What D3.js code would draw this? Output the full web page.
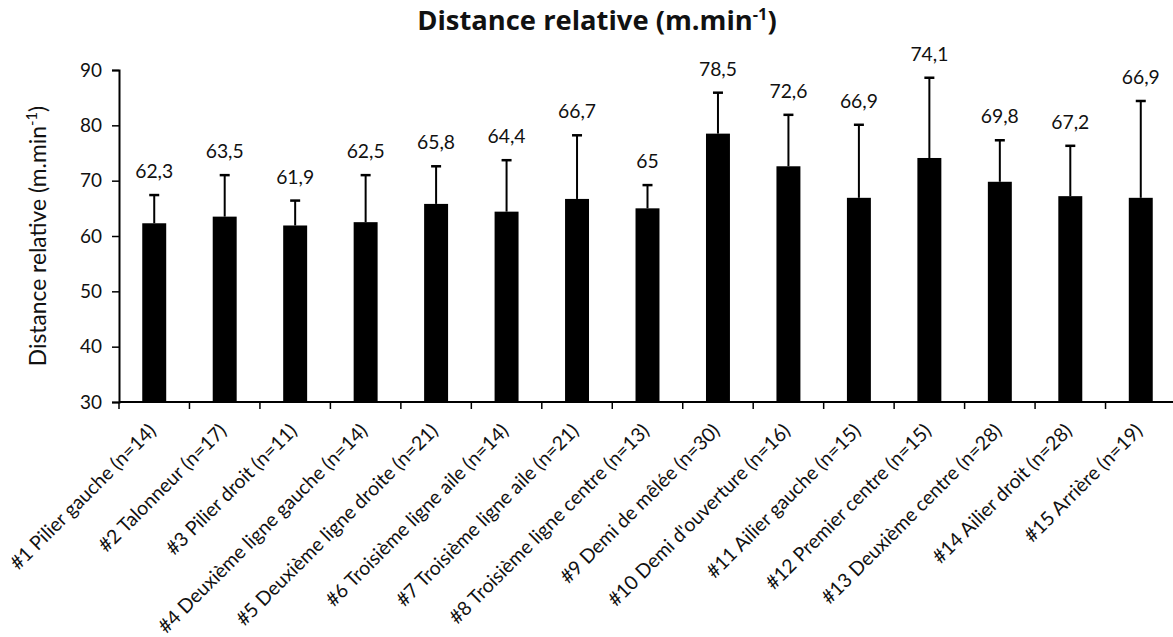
<!DOCTYPE html>
<html><head><meta charset="utf-8">
<script src="https://cdn.jsdelivr.net/npm/d3@7"></script>
<style>body{margin:0;background:#fff}svg{display:block}text{font-family:Lato,"Open Sans",sans-serif;fill:#111}</style>
</head><body><svg id="c" width="1173" height="637"></svg>
<script>
const categories = ["#1 Pilier gauche (n=14)","#2 Talonneur (n=17)","#3 Pilier droit (n=11)","#4 Deuxième ligne gauche (n=14)","#5 Deuxième ligne droite (n=21)","#6 Troisième ligne aile (n=14)","#7 Troisième ligne aile (n=21)","#8 Troisième ligne centre (n=13)","#9 Demi de mêlée (n=30)","#10 Demi d'ouverture (n=16)","#11 Ailier gauche (n=15)","#12 Premier centre (n=15)","#13 Deuxième centre (n=28)","#14 Ailier droit (n=28)","#15 Arrière (n=19)"];
const means = [62.3,63.5,61.9,62.5,65.8,64.4,66.7,65,78.5,72.6,66.9,74.1,69.8,67.2,66.9];
const sds = [5.1,7.5,4.5,8.5,6.8,9.3,11.5,4.2,7.4,9.3,13.2,14.5,7.5,9.1,17.5];
const meanLabels = ["62,3","63,5","61,9","62,5","65,8","64,4","66,7","65","78,5","72,6","66,9","74,1","69,8","67,2","66,9"];
const yTicks = [30,40,50,60,70,80,90];

const svg = d3.select("#c");
const L = 119, R = 1176, T = 70, B = 402;
const x = d3.scaleBand().domain(categories).range([L, R]).paddingInner(0.66).paddingOuter(0.33);
const step = x.step();
const y = d3.scaleLinear().domain([30, 90]).range([B, T]);

function fitSize(sample, target, base, weight, family) {
  const t = svg.append("text").style("font-size", base + "px").style("font-weight", weight || "normal").text(sample);
  if (family) t.style("font-family", family);
  const w = t.node().getComputedTextLength(); t.remove();
  return base * target / w;
}
const titleFont = "'Open Sans',Lato,sans-serif";
const valSize = fitSize("62,3", 38, 20);
const tickSize = fitSize("90", 22, 20);
const xlabSize = 0.96 * (fitSize(categories[0], 204, 20) + fitSize(categories[14], 165, 20)) / 2;
const titleSize = fitSize("Distance relative (m.min)", 345, 22, "bold", titleFont);
const ylabSize = fitSize("Distance relative (m.min)", 246, 18);

// title
const title = svg.append("text").attr("x", 597).attr("y", 30).attr("text-anchor", "middle")
  .style("font-family", titleFont)
  .style("font-size", titleSize + "px").style("font-weight", "bold");
title.append("tspan").text("Distance relative (m.min");
title.append("tspan").text("-1").style("font-size", (titleSize * 0.6) + "px").attr("dy", -titleSize * 0.36);
title.append("tspan").text(")").attr("dy", titleSize * 0.36);

// bars
svg.append("g").selectAll("rect").data(means).join("rect")
  .attr("x", (d, i) => x(categories[i])).attr("width", x.bandwidth())
  .attr("y", d => y(d)).attr("height", d => B - y(d)).attr("fill", "#000");

// error bars
const eg = svg.append("g").attr("stroke", "#000").attr("stroke-width", 2);
means.forEach((m, i) => {
  const cx = x(categories[i]) + x.bandwidth() / 2;
  eg.append("line").attr("x1", cx).attr("x2", cx).attr("y1", y(m)).attr("y2", y(m + sds[i]));
  eg.append("line").attr("x1", cx - 5).attr("x2", cx + 5).attr("y1", y(m + sds[i])).attr("y2", y(m + sds[i])).attr("stroke-width", 2.5);
});

// value labels
svg.append("g").selectAll("text").data(means).join("text")
  .attr("x", (d, i) => x(categories[i]) + x.bandwidth() / 2)
  .attr("y", (d, i) => y(d + sds[i]) - 17)
  .attr("text-anchor", "middle").style("font-size", valSize + "px")
  .text((d, i) => meanLabels[i]);

// y axis
const ya = svg.append("g").attr("transform", `translate(${L},0)`)
  .call(d3.axisLeft(y).tickValues(yTicks).tickSize(7).tickPadding(10).tickFormat(d3.format("d")));
ya.select(".domain").attr("stroke", "#000").attr("stroke-width", 2);
ya.selectAll(".tick line").attr("stroke", "#000").attr("stroke-width", 1.5);
ya.selectAll(".tick text").style("font-size", tickSize + "px").style("font-family", "Lato,'Open Sans',sans-serif").attr("fill", "#111");

// x axis
svg.append("line").attr("x1", L).attr("x2", R).attr("y1", B).attr("y2", B).attr("stroke", "#000").attr("stroke-width", 2);
const bounds = d3.range(categories.length + 1).map(i => L + i * step);
svg.append("g").selectAll("line").data(bounds).join("line")
  .attr("x1", d => d).attr("x2", d => d).attr("y1", B).attr("y2", B + 7)
  .attr("stroke", "#000").attr("stroke-width", 1.5);

// x labels
svg.append("g").selectAll("text").data(categories).join("text")
  .attr("transform", d => `translate(${x(d) + x.bandwidth() / 2 + 3},${B + 30}) rotate(-45)`)
  .attr("text-anchor", "end").style("font-size", xlabSize + "px")
  .text(d => d);

// y axis label
svg.append("text").attr("transform", `translate(46,236) rotate(-90)`)
  .attr("text-anchor", "middle").style("font-size", ylabSize + "px")
  .call(t => { t.append("tspan").text("Distance relative (m.min"); t.append("tspan").text("-1").style("font-size", (ylabSize * 0.65) + "px").attr("dy", -ylabSize * 0.4); t.append("tspan").text(")").attr("dy", ylabSize * 0.4); });
</script></body></html>
